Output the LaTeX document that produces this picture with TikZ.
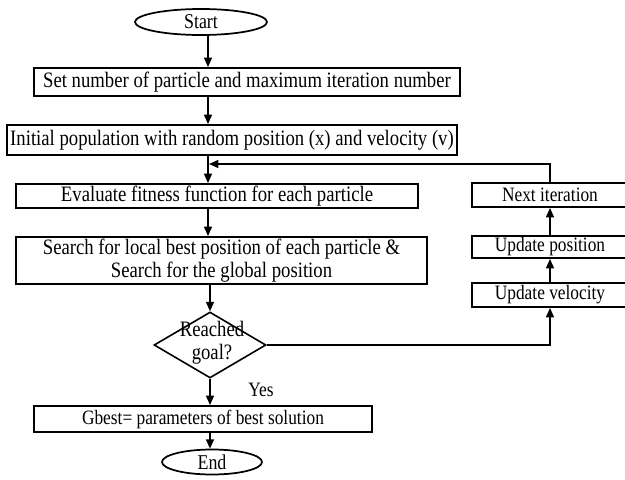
\documentclass[tikz,border=0pt]{standalone}
\usepackage{fontspec}
\setmainfont{Liberation Serif}[FakeStretch=0.85]
\usetikzlibrary{shapes.geometric,arrows.meta}

\begin{document}
\begin{tikzpicture}[x=0.75pt,y=0.75pt,yscale=-1,
  box/.style={draw,line width=1.5pt,inner sep=0pt,align=center,font=\fontsize{16.5}{17}\selectfont},
  sidebox/.style={box,font=\fontsize{15.3}{16}\selectfont},
  term/.style={draw,ellipse,line width=1.3pt,inner sep=0pt,font=\fontsize{15.8}{16}\selectfont},
  decision/.style={draw,diamond,line width=1.2pt,inner sep=0pt},
  flow/.style={line width=1.1pt,-{Triangle[length=7pt,width=6pt]}}]
%set diagram left start at 0, and has height of 479
\useasboundingbox (0,0) rectangle (625,479);
\clip (0,0) rectangle (625,479);

%Shape: Ellipse [id:start]
\node[term,minimum width=99pt,minimum height=19.5pt] (start) at (201,22) {Start};
%Shape: Rectangle [id:setn]
\node[box,minimum width=319.5pt,minimum height=21pt] (setn) at (247,82) {Set number of particle and maximum iteration number};
%Shape: Rectangle [id:init]
\node[box,minimum width=337.5pt,minimum height=22.5pt] (init) at (232,140) {Initial population with random position (x) and velocity (v)};
%Shape: Rectangle [id:eval]
\node[box,minimum width=301.5pt,minimum height=18pt] (eval) at (217,196) {Evaluate fitness function for each particle};
%Shape: Rectangle [id:search]
\node[box,minimum width=308.25pt,minimum height=35.25pt] (search) at (221.5,260.5) {Search for local best position of each particle \&\\Search for the global position};
%Shape: Diamond [id:goal]
\node[decision,minimum width=84pt,minimum height=49.5pt] (goal) at (210,345) {};
\node[align=center,inner sep=0pt,font=\fontsize{16.5}{17}\selectfont] (goaltext) at (212,343) {Reached\\goal?};
%Shape: Rectangle [id:best]
\node[sidebox,minimum width=253.5pt,minimum height=19.5pt] (best) at (203,419) {Gbest= parameters of best solution};
%Shape: Ellipse [id:end]
\node[term,minimum width=75pt,minimum height=18.75pt] (end) at (212,462) {End};

%Shape: Rectangle [id:next]
\node[sidebox,minimum width=117pt,minimum height=18pt] (next) at (550,195) {Next iteration};
%Shape: Rectangle [id:upos]
\node[sidebox,minimum width=117pt,minimum height=16.5pt] (upos) at (550,247) {Update position};
%Shape: Rectangle [id:uvel]
\node[sidebox,minimum width=117pt,minimum height=18pt] (uvel) at (550,295) {Update velocity};

%Straight Lines
\coordinate (axis) at (208,0);
\coordinate (back) at (209,164);
\draw[flow] (start.south -| axis) -- (setn.north -| axis);
\draw[flow] (setn.south -| axis) -- (init.north -| axis);
\draw[flow] (init.south -| axis) -- (eval.north -| axis);
\draw[flow] (eval.south -| axis) -- (search.north -| axis);
\draw[flow] (search.south -| goal) -- (goal.north);
\draw[flow] (goal.south) -- (best.north -| goal);
\draw[flow] (best.south -| goal) -- (end.north -| goal);
%loop back
\draw[flow] (goal.east) -| (uvel.south);
\draw[flow] (uvel.north) -- (upos.south);
\draw[flow] (upos.north) -- (next.south);
\draw[flow] (next.north) |- (back);

% Text Node
\node[inner sep=0pt,font=\fontsize{15.3}{16}\selectfont] (yes) at (261,390) {Yes};

\end{tikzpicture}
\end{document}
